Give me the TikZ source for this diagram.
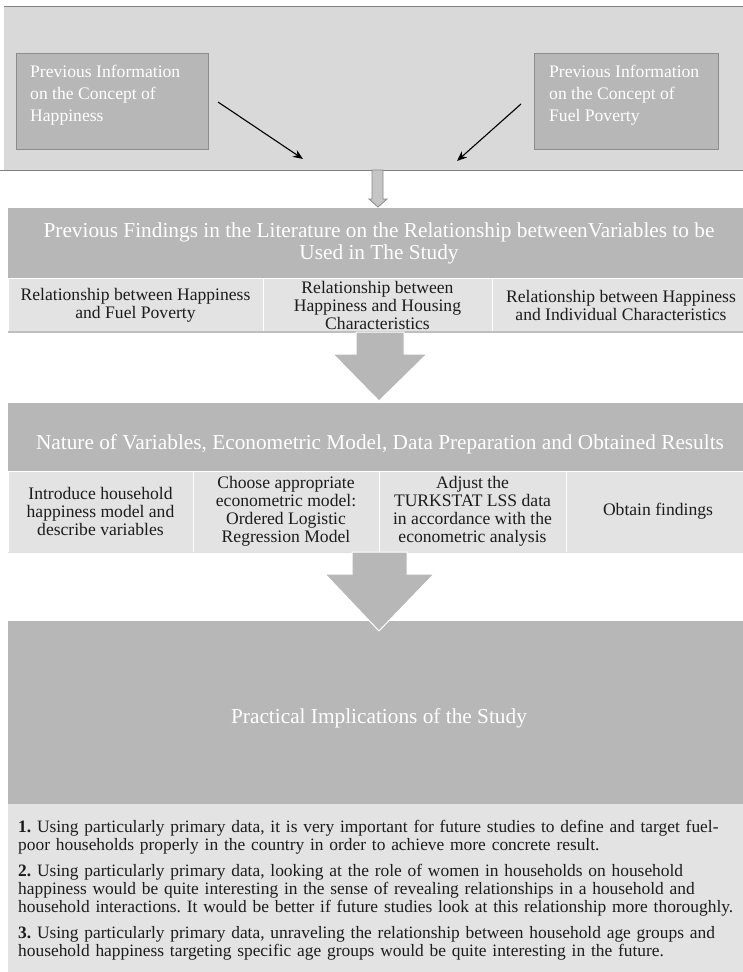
\documentclass[tikz,border=0pt]{standalone}
\usepackage{fontspec}
\setmainfont{Liberation Serif}
\usetikzlibrary{positioning,arrows.meta}

\definecolor{panelgray}{HTML}{D9D9D9}
\definecolor{bargray}{HTML}{B7B7B7}
\definecolor{cellgray}{HTML}{E3E3E3}
\definecolor{edgegray}{HTML}{8C8C8C}
\definecolor{rulegray}{HTML}{808080}
\definecolor{inkgray}{HTML}{1C1C1C}

\newcommand\headfont{\fontsize{21.3}{22}\selectfont}
\newcommand\cellfont{\fontsize{17.6}{18}\selectfont}
\newcommand\notefont{\fontsize{17.4}{18}\selectfont\frenchspacing}
\newcommand\boxfont{\fontsize{17.6}{22}\selectfont}

\tikzset{
  panel/.style={fill=panelgray, inner sep=0pt, outer sep=0pt, anchor=north west},
  rule/.style={draw=rulegray, line width=1pt},
  infobox/.style={draw=edgegray, line width=1.3pt, fill=bargray, inner sep=0pt,
    minimum height=96pt, anchor=north west},
  infotext/.style={text=white, font=\boxfont, align=left, inner sep=0pt, anchor=north west},
  bar/.style={fill=bargray, inner sep=0pt, outer sep=0pt, anchor=north west,
    text=white, font=\headfont, align=center},
  headtext/.style={text=white, font=\headfont, inner sep=0pt},
  cell/.style={fill=cellgray, draw=white, line width=0.8pt, inner sep=0pt, outer sep=0pt,
    text=inkgray, font=\cellfont, align=center},
  pointer/.style={draw=black, line width=1.1pt, -{Stealth[length=10pt,width=8pt]}},
  thinarrow/.style={fill=edgegray!50, draw=edgegray, line width=0.8pt},
  bigarrow/.style={fill=bargray, draw=white, line width=1pt},
}

\begin{document}
\begin{tikzpicture}[x=1pt,y=-1pt]
  \useasboundingbox (0,0) rectangle (742,972);

  % top panel with the two concept boxes
  \node[panel, minimum width=750pt, minimum height=164pt] (top) at (4,6) {};
  \draw[rule] (top.north west) -- (top.north east);
  \draw[rule] (0,170) -- (top.south east);

  \node[infobox, minimum width=192pt] (hap) at (16,53) {};
  \node[infotext] (haptext) at (30,65) {Previous Information\\on the Concept of\\Happiness};
  \node[infobox, minimum width=184pt] (fuel) at (534,53) {};
  \node[infotext] (fueltext) at (549,65) {Previous Information\\on the Concept of\\Fuel Poverty};

  \coordinate (hapfrom) at (218,102);
  \coordinate (hapto) at (303,159);
  \coordinate (fuelfrom) at (521,104);
  \coordinate (fuelto) at (457,161);
  \draw[pointer] (hapfrom) -- (hapto);
  \draw[pointer] (fuelfrom) -- (fuelto);

  % literature findings
  \node[bar, minimum width=742pt, minimum height=70pt] (find) at (8,208)
    {Previous Findings in the Literature on the Relationship betweenVariables to be\\Used in The Study};

  \node[cell, minimum width=255pt, minimum height=54pt, anchor=north west] (relA) at (8,278)
    {Relationship between Happiness\\and Fuel Poverty};
  \node[cell, minimum width=229pt, minimum height=54pt, right=0pt of relA] (relB)
    {Relationship between\\Happiness and Housing\\Characteristics};
  \node[cell, minimum width=258pt, minimum height=54pt, right=0pt of relB] (relC)
    {Relationship between Happiness\\and Individual Characteristics};
  \draw[draw=black!25, line width=1.5pt] (relA.south west) -- (relC.south east);

  % variables, model, data and results
  \node[bar, minimum width=742pt, minimum height=68pt] (nature) at (8,403) {};
  \node[headtext, anchor=base] (naturetext) at (380,449)
    {Nature of Variables, Econometric Model, Data Preparation and Obtained Results};

  \node[cell, minimum width=185pt, minimum height=81pt, anchor=north west] (stepA) at (8,471)
    {Introduce household\\happiness model and\\describe variables};
  \node[cell, minimum width=186pt, minimum height=81pt, right=0pt of stepA] (stepB)
    {Choose appropriate\\econometric model:\\Ordered Logistic\\Regression Model};
  \node[cell, minimum width=187pt, minimum height=81pt, right=0pt of stepB] (stepC)
    {Adjust the\\TURKSTAT LSS data\\in accordance with the\\econometric analysis};
  \node[cell, minimum width=184pt, minimum height=81pt, right=0pt of stepC] (stepD)
    {Obtain findings};
  \draw[draw=black!12, line width=1pt] (stepA.south west) -- (stepD.south east);

  % practical implications
  \node[bar, minimum width=742pt, minimum height=183pt] (impl) at (8,621) {};
  \node[headtext, anchor=base] (impltext) at (379,723) {Practical Implications of the Study};

  \node[panel, fill=cellgray, minimum width=742pt, minimum height=176pt] (notes) at (8,804) {};
  \node[infotext, text=inkgray, font=\notefont, text width=760pt] (notestext) at (18,820)
    {\textbf{1.} Using particularly primary data, it is very important for future studies to define and target fuel-\\
     poor households properly in the country in order to achieve more concrete result.\\[8pt]
     \textbf{2.} Using particularly primary data, looking at the role of women in households on household\\
     happiness would be quite interesting in the sense of revealing relationships in a household and\\
     household interactions. It would be better if future studies look at this relationship more thoroughly.\\[8pt]
     \textbf{3.} Using particularly primary data, unraveling the relationship between household age groups and\\
     household happiness targeting specific age groups would be quite interesting in the future.};

  % block arrows between the stages
  \filldraw[thinarrow] (372,170) -- (383,170) -- (383,199) -- (387,199) -- (378,207)
    -- (369,199) -- (372,199) -- cycle;
  \filldraw[bigarrow] (356,332) -- (404,332) -- (404,354) -- (427,354) -- (379,401)
    -- (333,354) -- (356,354) -- cycle;
  \filldraw[bigarrow] (352,552) -- (407,552) -- (407,574) -- (434,574) -- (379,631)
    -- (325,574) -- (352,574) -- cycle;
\end{tikzpicture}
\end{document}
